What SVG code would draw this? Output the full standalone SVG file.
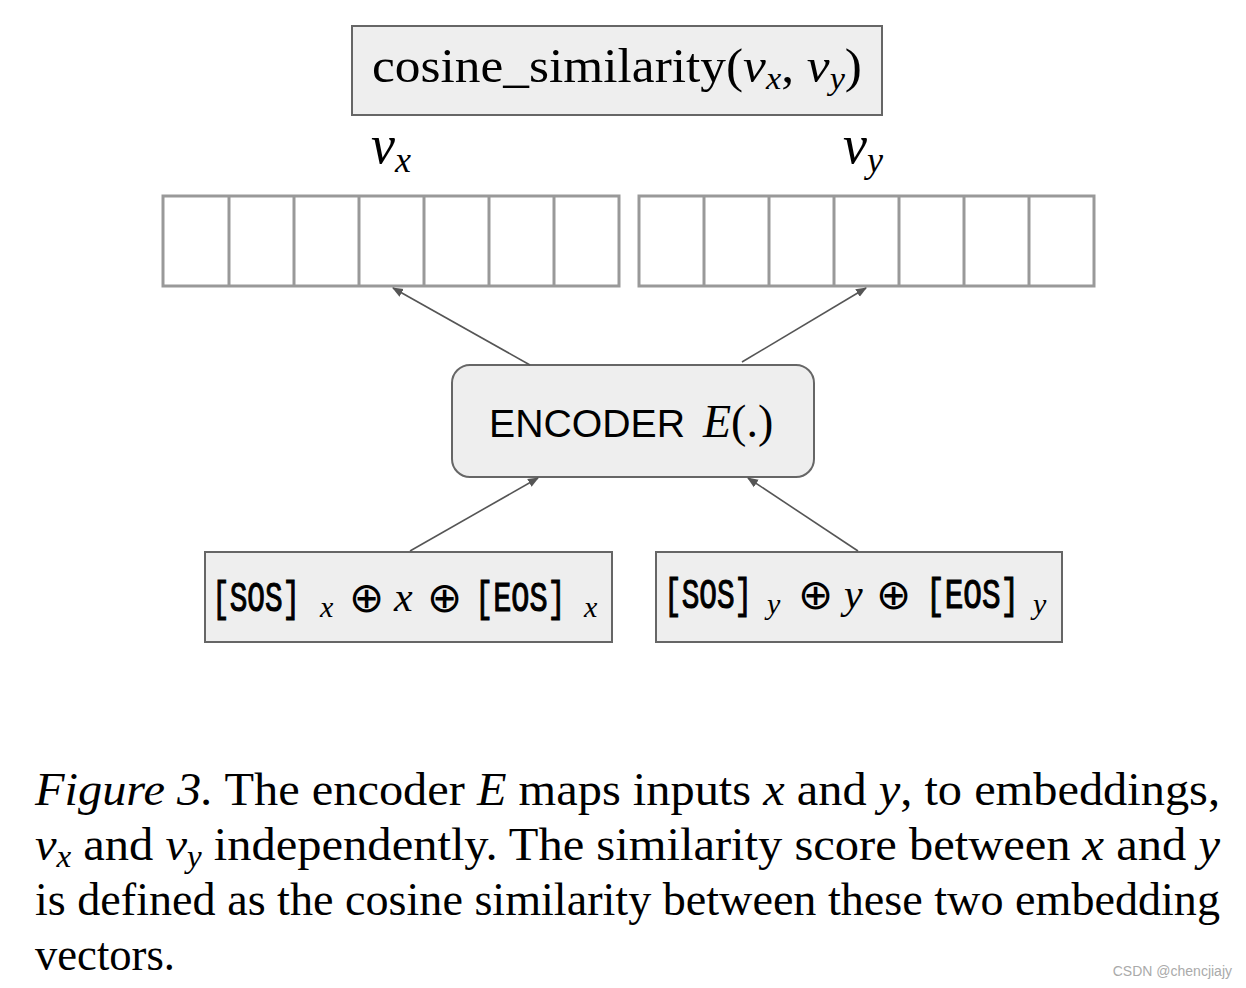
<svg xmlns="http://www.w3.org/2000/svg" width="1246" height="988" viewBox="0 0 1246 988">
<defs>
<style>
.box{fill:#eeeeee;stroke:#666666;stroke-width:2}
.cell{fill:#ffffff;stroke:#999999;stroke-width:3}
.conn{stroke:#555555;stroke-width:1.6;fill:none}
.serif{font-family:"Liberation Serif","Times New Roman",serif;fill:#000}
.it{font-style:italic}
.mono{font-family:"Liberation Mono","DejaVu Sans Mono",monospace;fill:#000;stroke:#000;stroke-width:1.1;font-size:42px}
.sans{font-family:"Liberation Sans",Arial,sans-serif;fill:#000}
.op{font-family:"DejaVu Sans",sans-serif;fill:#000;font-weight:200}
</style>
<marker id="ah" viewBox="0 0 10 10" refX="9" refY="5" markerWidth="11" markerHeight="11" orient="auto" markerUnits="userSpaceOnUse">
<path d="M0,1 L10,5 L0,9 z" fill="#555555"/>
</marker>
</defs>
<rect width="1246" height="988" fill="#ffffff"/>

<g id="cosine">
<rect class="box" x="352" y="26" width="530" height="89"/>
<text class="serif" x="372" y="82" font-size="48" textLength="490" lengthAdjust="spacingAndGlyphs">cosine_similarity(<tspan class="it">v</tspan><tspan class="it" font-size="32" dy="7">x</tspan><tspan dy="-7">, </tspan><tspan class="it">v</tspan><tspan class="it" font-size="32" dy="7">y</tspan><tspan dy="-7">)</tspan></text>
</g>

<g id="vx-label">
<text class="serif it" x="371" y="163" font-size="54">v<tspan font-size="36" dy="9">x</tspan></text>
</g>
<g id="vy-label">
<text class="serif it" x="843" y="163" font-size="54">v<tspan font-size="36" dy="9">y</tspan></text>
</g>

<g id="vx-vector">
<rect class="cell" x="163" y="196" width="456" height="90"/>
<path class="cell" d="M229,196V286M294,196V286M359,196V286M424,196V286M489,196V286M554,196V286"/>
</g>
<g id="vy-vector">
<rect class="cell" x="639" y="196" width="455" height="90"/>
<path class="cell" d="M704,196V286M769,196V286M834,196V286M899,196V286M964,196V286M1029,196V286"/>
</g>

<g id="encoder">
<rect class="box" x="452" y="365" width="362" height="112" rx="18" ry="18"/>
<text class="sans" x="489" y="437" font-size="39" textLength="196" lengthAdjust="spacingAndGlyphs">ENCODER</text>
<text class="serif" x="703" y="437" font-size="46"><tspan class="it">E</tspan>(.)</text>
</g>

<g id="input-x">
<rect class="box" x="205" y="552" width="407" height="90"/>
<text class="mono" transform="translate(212,611) scale(0.7,1)">[SOS]</text>
<text class="serif it" x="320" y="617" font-size="30">x</text>
<text class="op" x="349" y="612" font-size="42">⊕</text>
<text class="serif it" x="394" y="611" font-size="42">x</text>
<text class="op" x="427" y="612" font-size="42">⊕</text>
<text class="mono" transform="translate(475,611) scale(0.72,1)">[EOS]</text>
<text class="serif it" x="584" y="617" font-size="30">x</text>
</g>
<g id="input-y">
<rect class="box" x="656" y="552" width="406" height="90"/>
<text class="mono" transform="translate(664,608) scale(0.7,1)">[SOS]</text>
<text class="serif it" x="767" y="614" font-size="30">y</text>
<text class="op" x="798" y="609" font-size="42">⊕</text>
<text class="serif it" x="844" y="608" font-size="42">y</text>
<text class="op" x="876" y="609" font-size="42">⊕</text>
<text class="mono" transform="translate(926,608) scale(0.74,1)">[EOS]</text>
<text class="serif it" x="1033" y="614" font-size="30">y</text>
</g>

<g id="connectors">
<line class="conn" x1="530" y1="365" x2="393" y2="288" marker-end="url(#ah)"/>
<line class="conn" x1="742" y1="362" x2="866" y2="288" marker-end="url(#ah)"/>
<line class="conn" x1="410" y1="551" x2="538" y2="478" marker-end="url(#ah)"/>
<line class="conn" x1="858" y1="551" x2="748" y2="478" marker-end="url(#ah)"/>
</g>

<g id="caption" class="serif" font-size="47">
<text x="35" y="805" textLength="1185" lengthAdjust="spacingAndGlyphs"><tspan class="it">Figure 3.</tspan> The encoder <tspan class="it">E</tspan> maps inputs <tspan class="it">x</tspan> and <tspan class="it">y</tspan>, to embeddings,</text>
<text x="35" y="860" textLength="1185" lengthAdjust="spacingAndGlyphs"><tspan class="it">v</tspan><tspan class="it" font-size="32" dy="7">x</tspan><tspan dy="-7"> and </tspan><tspan class="it">v</tspan><tspan class="it" font-size="32" dy="7">y</tspan><tspan dy="-7"> independently.  The similarity score between </tspan><tspan class="it">x</tspan> and <tspan class="it">y</tspan></text>
<text x="35" y="915" textLength="1185" lengthAdjust="spacingAndGlyphs">is defined as the cosine similarity between these two embedding</text>
<text x="35" y="970" textLength="140" lengthAdjust="spacingAndGlyphs">vectors.</text>
</g>

<g id="watermark">
<text class="sans" x="1232" y="976" font-size="14" text-anchor="end" style="fill:#aaaaaa">CSDN @chencjiajy</text>
</g>
</svg>
